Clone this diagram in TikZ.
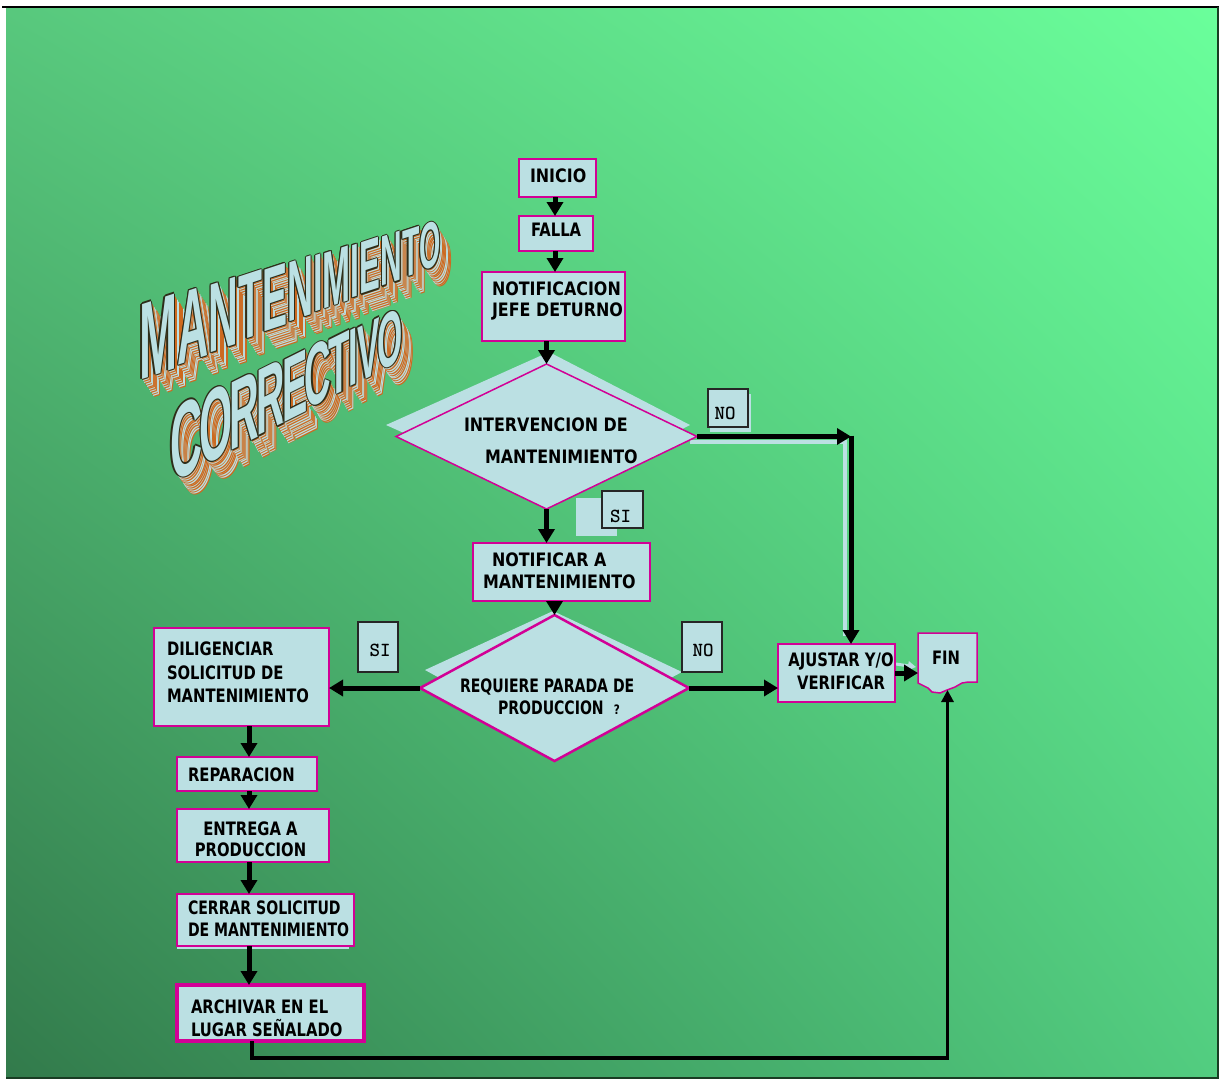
\documentclass[tikz,border=0pt]{standalone}
\usepackage{fontspec}
\setmainfont{Liberation Sans}
\newfontfamily\boxfont{DejaVu Sans}[FakeStretch=0.8]
\newfontfamily\boxfontwide{DejaVu Sans}[FakeStretch=0.86]
\newfontfamily\boxfontnarrow{DejaVu Sans}[FakeStretch=0.76]
\newfontfamily\titlefam{Liberation Sans}
\usetikzlibrary{arrows.meta,shapes.geometric,shadings}

\definecolor{bgUL}{RGB}{88,200,125}
\definecolor{bgUR}{RGB}{106,255,155}
\definecolor{bgLL}{RGB}{50,122,75}
\definecolor{bgLR}{RGB}{82,205,128}
\definecolor{paleblue}{RGB}{187,224,227}
\definecolor{magentaline}{RGB}{210,0,150}
\definecolor{extredge}{RGB}{205,105,30}
\definecolor{faceline}{RGB}{45,45,25}
\definecolor{frameline}{RGB}{25,60,35}

\tikzset{
  procbox/.style={draw=magentaline, line width=2pt, fill=paleblue, inner sep=0pt, outer sep=0pt},
  decision/.style={shape=diamond, draw=magentaline, line width=1.5pt, fill=paleblue, inner sep=0pt, outer sep=0pt},
  tagbox/.style={draw=black!85, line width=1.5pt, fill=paleblue, inner sep=0pt, outer sep=0pt},
  txt/.style={inner sep=0pt, outer sep=0pt, font={\fontsize{18.5}{22.5}\boxfont\bfseries}, align=left},
  txtwide/.style={txt, font={\fontsize{18.5}{22.5}\boxfontwide\bfseries}},
  txtnarrow/.style={txt, font={\fontsize{18.5}{22.5}\boxfontnarrow\bfseries}},
  tagtxt/.style={inner sep=0pt, outer sep=0pt, font={\fontsize{20}{20}\ttfamily\bfseries}},
  flow/.style={line width=5pt, -{Triangle[width=16pt,length=14pt]}},
  flowthin/.style={line width=3.2pt, -{Triangle[width=12pt,length=12pt]}},
  halo/.style={draw=paleblue, line width=4pt},
  titleglyph/.style={anchor=base west, inner sep=0pt, outer sep=0pt, transform shape,
    font={\fontsize{100}{100}\titlefam\bfseries}},
}

% one copy of a title letter: letter, x, baseline y, em size, slant, colour
\newcommand\glyphcopy[6]{%
  \begin{scope}[shift={({#2},{#3})},yslant=#5,xscale={0.0042*#4},yscale={0.01*#4}]
    \node[titleglyph,text=#6] at (0,0) {#1};
  \end{scope}}
% extruded depth of a title letter, built from stacked copies
\newcommand\extrudeglyph[5]{%
  \foreach \k in {10,9,...,1}{%
    \glyphcopy{#1}{#2+\k*1.2}{#3+\k*1.8}{#4}{#5}{extredge}%
    \glyphcopy{#1}{#2+\k*1.2-0.8}{#3+\k*1.8-0.9}{#4}{#5}{paleblue}%
  }}
% outlined front face of a title letter
\newcommand\faceglyph[5]{%
  \foreach \ox/\oy in {-1.1/0,1.1/0,0/-1.1,0/1.1,-0.8/-0.8,0.8/0.8,-0.8/0.8,0.8/-0.8}{%
    \glyphcopy{#1}{#2+\ox}{#3+\oy}{#4}{#5}{faceline}}%
  \glyphcopy{#1}{#2}{#3}{#4}{#5}{paleblue}}

\begin{document}
\begin{tikzpicture}[x=1pt,y=-1pt]
\useasboundingbox (0,0) rectangle (1225,1080);
\fill[white] (0,0) rectangle (1225,1080);

% background panel
\shade[upper left=bgUL, upper right=bgUR, lower left=bgLL, lower right=bgLR] (6,7) rectangle (1218,1078);
\draw[black, line width=1.5pt] (2,7) -- (1219,7);
\draw[frameline, line width=2pt] (1218,7) -- (1218,1078) -- (6,1078);

% title in extruded letters
\foreach \gl/\gx/\gy/\ge in {M/139/380/108.9, A/177.1/365.3/102.9, N/208.3/353.3/98.1,
  T/238.0/341.8/93.4, E/262.0/332.5/89.6, N/287.1/322.8/85.8, I/313.1/312.8/81.7,
  M/322.6/309.1/80.2, I/350.7/298.3/75.8, E/359.6/294.9/74.4, N/380.4/286.9/71.2,
  T/402.0/278.5/67.8, O/419.4/271.8/65.1}{\extrudeglyph{\gl}{\gx}{\gy}{\ge}{0.33}}
\foreach \gl/\gx/\gy/\ge in {C/170/483/106.1, O/199.1/467.4/102.1, R/229.3/451.3/97.9,
  R/256.2/436.9/94.1, E/282.0/423.1/90.5, C/304.9/410.8/87.3, T/328.9/398.0/83.9,
  I/348.4/387.6/81.3, V/357.0/383.0/80.0, O/377.3/372.1/77.2}{\extrudeglyph{\gl}{\gx}{\gy}{\ge}{0.5}}
\foreach \gl/\gx/\gy/\ge in {M/139/380/108.9, A/177.1/365.3/102.9, N/208.3/353.3/98.1,
  T/238.0/341.8/93.4, E/262.0/332.5/89.6, N/287.1/322.8/85.8, I/313.1/312.8/81.7,
  M/322.6/309.1/80.2, I/350.7/298.3/75.8, E/359.6/294.9/74.4, N/380.4/286.9/71.2,
  T/402.0/278.5/67.8, O/419.4/271.8/65.1}{\faceglyph{\gl}{\gx}{\gy}{\ge}{0.33}}
\foreach \gl/\gx/\gy/\ge in {C/170/483/106.1, O/199.1/467.4/102.1, R/229.3/451.3/97.9,
  R/256.2/436.9/94.1, E/282.0/423.1/90.5, C/304.9/410.8/87.3, T/328.9/398.0/83.9,
  I/348.4/387.6/81.3, V/357.0/383.0/80.0, O/377.3/372.1/77.2}{\faceglyph{\gl}{\gx}{\gy}{\ge}{0.5}}

% pale shadows behind shapes and connectors
\fill[paleblue] (386,425) -- (549,352) -- (690,425) -- (549,498) -- cycle;
\fill[paleblue] (425,670) -- (553,611) -- (682,672) -- (553,740) -- cycle;
\fill[paleblue] (576,498) rectangle (617,536);
\fill[paleblue] (710,394) rectangle (751,432);
\draw[halo] (690,442) -- (845,442) -- (845,636);
\draw[paleblue, line width=2pt] (177,948) -- (349,948);
\draw[paleblue, line width=3pt, -{Triangle[width=9pt,length=8pt]}] (896,664) -- (916,667);

% process boxes and decisions
\node[procbox, minimum width=77pt, minimum height=38pt] (inicio) at (557.5,178) {};
\node[procbox, minimum width=74pt, minimum height=35pt] (falla) at (556,233.5) {};
\node[procbox, minimum width=143pt, minimum height=69pt] (notif) at (553.5,306.5) {};
\node[decision, minimum width=301pt, minimum height=145pt] (dia1) at (546.5,436.5) {};
\node[procbox, minimum width=177pt, minimum height=58pt] (notifm) at (561.5,572) {};
\node[decision, line width=2.5pt, minimum width=269pt, minimum height=146pt] (dia2) at (554.5,688) {};
\node[procbox, minimum width=117pt, minimum height=58pt] (ajustar) at (836.5,673) {};
\node[procbox, minimum width=175pt, minimum height=98pt] (dilig) at (241.5,677) {};
\node[procbox, minimum width=140pt, minimum height=34pt] (repar) at (247,774) {};
\node[procbox, minimum width=152pt, minimum height=53pt] (entrega) at (253,835.5) {};
\node[procbox, minimum width=177pt, minimum height=52pt] (cerrar) at (265.5,920) {};
\node[procbox, line width=3.5pt, minimum width=187pt, minimum height=56pt] (archivar) at (270.5,1013) {};
\fill[paleblue, draw=magentaline, line width=1.5pt] (918,633) -- (977,633) -- (977,682) -- (968,682)
  -- (962,683) -- (955,687) -- (947,690) -- (940,693) -- (932,692) -- (928,688) -- (918,683) -- cycle;
\node[inner sep=0pt, outer sep=0pt, minimum width=59pt, minimum height=57pt] (fin) at (947.5,661.5) {};

% texts
\node[txtwide, anchor=north west] (inicio-t) at (530,168.5) {INICIO};
\node[txt, anchor=north west] (falla-t) at (531,223.5) {FALLA};
\node[txtwide, anchor=north west] (notif-t) at (492,281.5) {NOTIFICACION\\[-0.8pt]JEFE DETURNO};
\node[txtwide, anchor=north west] (dia1-t) at (464,418) {INTERVENCION DE\\[8.8pt]\hspace*{21pt}MANTENIMIENTO};
\node[txtwide, anchor=north west] (notifm-t) at (483,552.3) {\hspace*{9pt}NOTIFICAR A\\[-0.5pt]MANTENIMIENTO};
\node[txtnarrow, anchor=north west] (dia2-t) at (460,678.3) {REQUIERE PARADA DE\\[-0.5pt]\hspace*{38pt}PRODUCCION};
\node[inner sep=0pt, font={\fontsize{13}{13}\boxfont\bfseries}] (dia2-q) at (617,710) {?};
\node[txt, anchor=north, align=center] (ajustar-t) at (841,652.3) {AJUSTAR Y/O\\[0.5pt]VERIFICAR};
\node[txt, anchor=north west] (fin-t) at (932,651.3) {FIN};
\node[txt, anchor=north west] (dilig-t) at (167,641.5) {DILIGENCIAR\\[1.3pt]SOLICITUD DE\\[1.3pt]MANTENIMIENTO};
\node[txt, anchor=north west] (repar-t) at (188,767.3) {REPARACION};
\node[txt, anchor=north, align=center] (entrega-t) at (250.5,821.5) {ENTREGA A\\[-0.8pt]PRODUCCION};
\node[txtnarrow, anchor=north west] (cerrar-t) at (188,900.5) {CERRAR SOLICITUD\\[0.2pt]DE MANTENIMIENTO};
\node[txt, anchor=north west] (archivar-t) at (191,999.3) {ARCHIVAR EN EL\\[0.8pt]LUGAR SEÑALADO};

% connectors
\coordinate (topx) at (555,0);
\coordinate (colx) at (249,0);
\coordinate (nocorner) at (851,0);
\coordinate (loopx) at (252,0);
\coordinate (loopy) at (0,1058);
\draw[flow] (inicio.south -| topx) -- (falla.north -| topx);
\draw[flow] (falla.south -| topx) -- (notif.north -| topx);
\draw[flow] (dia1.north |- notif.south) -- (dia1.north);
\draw[flow] (dia1.south) -- (dia1.south |- notifm.north);
\draw[flow] (dia1.east) -- (dia1.east -| nocorner);
\draw[flow] ([yshift=1pt]dia1.east -| nocorner) -- (nocorner |- ajustar.north);
\draw[flow] (dia2.north |- notifm.south) -- (dia2.north);
\draw[flow] (dia2.west) -- (dia2.west -| dilig.east);
\draw[flow] (dia2.east) -- (dia2.east -| ajustar.west);
\draw[flow] (ajustar.east) -- (ajustar.east -| fin.west);
\draw[flow] (dilig.south -| colx) -- (repar.north -| colx);
\draw[flow] (repar.south -| colx) -- (entrega.north -| colx);
\draw[flow] (entrega.south -| colx) -- (cerrar.north -| colx);
\draw[flow] (cerrar.south -| colx) -- (archivar.north -| colx);
\draw[flowthin] (archivar.south -| loopx) |- (fin.south |- loopy) -- (fin.south);

% answer tags
\node[tagbox, minimum width=40pt, minimum height=38pt] (no1) at (728,408) {};
\node[tagtxt] (no1-t) at (725,413) {NO};
\node[tagbox, minimum width=41pt, minimum height=37pt] (si1) at (622.5,509.5) {};
\node[tagtxt] (si1-t) at (620.5,516) {SI};
\node[tagbox, minimum width=40pt, minimum height=50pt] (no2) at (702,647) {};
\node[tagtxt] (no2-t) at (703,650) {NO};
\node[tagbox, minimum width=40pt, minimum height=50pt] (si2) at (378,647) {};
\node[tagtxt] (si2-t) at (380,650) {SI};
\end{tikzpicture}
\end{document}
